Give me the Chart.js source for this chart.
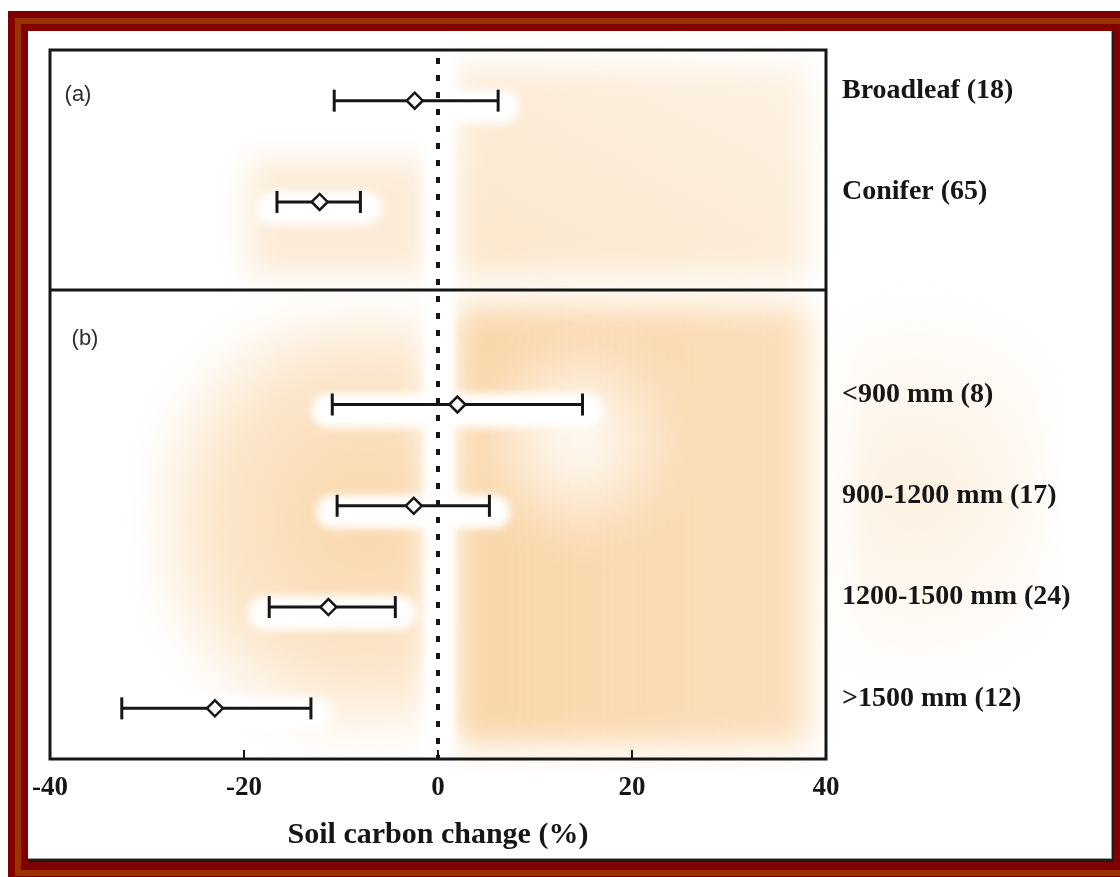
<!DOCTYPE html>
<html>
<head>
<meta charset="utf-8">
<title>Soil carbon change</title>
<script src="https://cdn.jsdelivr.net/npm/chart.js@4.4.1/dist/chart.umd.min.js"></script>
<style>
    html, body { margin: 0; padding: 0; width: 1120px; height: 877px; overflow: hidden; background: #fff; }
    /* triple red frame: dark / rust / dark */
    .frame { position: absolute; left: 8px; top: 11px; width: 1140px; height: 872px; box-sizing: border-box;
             background: #800000; padding: 7px; }
    .band  { height: 100%; box-sizing: border-box; background: #993300; padding: 6px; }
    .inner { height: 100%; box-sizing: border-box; background: #800000; }
    .sheet { position: absolute; left: 28px; top: 31px; width: 1084px; height: 828px; background: #fff;
             border-right: 2px solid #1c1c1c; border-bottom: 3px solid #1c1c1c;
             box-shadow: inset -1px -1px 0 #9a9a9a; }
    canvas { display: block; }
</style>
</head>
<body>
<div class="frame"><div class="band"><div class="inner"></div></div></div>
<div class="sheet"><canvas id="soilChart" width="1084" height="828"></canvas></div>

<script>
(function () {
    'use strict';

    // ── Data ────────────────────────────────────────────────────────────────
    const panelA = ['Broadleaf (18)', 'Conifer (65)'];
    const panelB = ['<900 mm (8)', '900-1200 mm (17)', '1200-1500 mm (24)', '>1500 mm (12)'];
    const groups = [...panelA, ...panelB];

    const means = [-2.4, -12.2, 2.0, -2.5, -11.3, -23.0];
    const lower = [-10.7, -16.6, -10.9, -10.4, -17.4, -32.6];
    const upper = [6.2, -8.0, 14.9, 5.3, -4.4, -13.1];

    const xTicks = [-40, -20, 0, 20, 40];

    // one empty row keeps the two panels apart
    const yLabels = [...panelA, '', ...panelB];
    const DIVIDER_AT = 1.87;

    // ── Theme ───────────────────────────────────────────────────────────────
    const INK   = '#161616';
    const SERIF = "'Liberation Serif', 'Times New Roman', serif";
    const SANS  = "'Liberation Sans', Arial, sans-serif";
    const PEACH = 'rgba(248,206,152,';

    // ── Datasets ────────────────────────────────────────────────────────────
    const whiskers = groups.map((g, i) => ({
        data: [{ x: lower[i], y: g }, { x: upper[i], y: g }],
        borderColor: INK,
        borderWidth: 3,
        pointRadius: 0,
        order: 3
    }));

    const caps = {
        data: groups.flatMap((g, i) => [{ x: lower[i], y: g }, { x: upper[i], y: g }]),
        showLine: false,
        pointStyle: 'line',
        rotation: 90,
        pointRadius: 11,
        borderColor: INK,
        borderWidth: 3,
        order: 2
    };

    const centres = {
        data: groups.map((g, i) => ({ x: means[i], y: g })),
        showLine: false,
        pointStyle: 'rectRot',
        pointRadius: 8,
        backgroundColor: '#fff',
        borderColor: INK,
        borderWidth: 2.5,
        order: 1
    };

    // ── Plugins ─────────────────────────────────────────────────────────────
    // soft peach wash behind the panels
    const haze = {
        id: 'haze',
        beforeDraw(chart) {
            const { ctx, chartArea: a, scales: { x, y } } = chart;
            const x0 = x.getPixelForValue(0);
            const divY = y.getPixelForValue(DIVIDER_AT);
            ctx.save();
            ctx.filter = 'blur(16px)';

            let g = ctx.createLinearGradient(x0, a.bottom, a.right, a.top);
            g.addColorStop(0, PEACH + '0.8)');
            g.addColorStop(1, PEACH + '0.25)');
            ctx.fillStyle = g;
            ctx.fillRect(x0 + 18, a.top + 16, a.right - x0 - 36, divY - a.top - 30);

            g = ctx.createLinearGradient(x0, 0, a.right, 0);
            g.addColorStop(0, PEACH + '0.85)');
            g.addColorStop(1, PEACH + '0.65)');
            ctx.fillStyle = g;
            ctx.fillRect(x0 + 18, divY + 16, a.right - x0 - 36, a.bottom - divY - 30);

            g = ctx.createRadialGradient(x0 + 140, divY + 150, 5, x0 + 140, divY + 150, 110);
            g.addColorStop(0, 'rgba(255,255,255,0.9)');
            g.addColorStop(1, 'rgba(255,255,255,0)');
            ctx.fillStyle = g;
            ctx.fillRect(x0, divY, a.right - x0, a.bottom - divY);

            g = ctx.createRadialGradient(x0 - 70, divY + 230, 20, x0 - 70, divY + 230, 240);
            g.addColorStop(0, PEACH + '0.8)');
            g.addColorStop(0.6, PEACH + '0.5)');
            g.addColorStop(1, PEACH + '0)');
            ctx.fillStyle = g;
            ctx.fillRect(a.left + 100, divY + 20, x0 - a.left - 110, a.bottom - divY - 30);

            ctx.fillStyle = PEACH + '0.4)';
            ctx.fillRect(x0 - 190, a.top + 110, 180, divY - a.top - 125);

            g = ctx.createRadialGradient(a.right + 90, divY + 200, 10, a.right + 90, divY + 200, 200);
            g.addColorStop(0, PEACH + '0.3)');
            g.addColorStop(1, PEACH + '0)');
            ctx.fillStyle = g;
            ctx.fillRect(a.right + 20, divY - 60, 200, 470);
            ctx.restore();
        }
    };

    // white halos, panel frame, zero line and inward ticks
    const frame = {
        id: 'frame',
        beforeDatasetsDraw(chart) {
            const { ctx, chartArea: a, scales: { x, y } } = chart;
            const x0 = x.getPixelForValue(0);
            const divY = y.getPixelForValue(DIVIDER_AT);

            ctx.save();
            ctx.filter = 'blur(4px)';
            ctx.strokeStyle = '#fff';
            ctx.lineCap = 'round';
            groups.forEach((g, i) => {
                const py = y.getPixelForValue(g);
                ctx.lineWidth = 34;
                ctx.beginPath();
                ctx.moveTo(x.getPixelForValue(lower[i]) - 4, py + 6);
                ctx.lineTo(x.getPixelForValue(upper[i]) + 4, py + 6);
                ctx.stroke();
            });
            ctx.fillStyle = '#fff';
            ctx.fillRect(x0 - 14, a.top, 30, a.bottom - a.top);
            ctx.restore();

            ctx.save();
            ctx.strokeStyle = INK;
            ctx.lineWidth = 3;
            ctx.strokeRect(a.left, a.top, a.right - a.left, a.bottom - a.top);
            ctx.beginPath();
            ctx.moveTo(a.left, divY);
            ctx.lineTo(a.right, divY);
            ctx.stroke();

            ctx.lineWidth = 2;
            x.ticks.forEach(t => {
                if (t.value <= x.min || t.value >= x.max) return;
                const px = x.getPixelForValue(t.value);
                ctx.beginPath();
                ctx.moveTo(px, a.bottom);
                ctx.lineTo(px, a.bottom - 9);
                ctx.stroke();
            });

            ctx.lineWidth = 4;
            ctx.setLineDash([6, 11]);
            ctx.beginPath();
            ctx.moveTo(x0, a.top + 8);
            ctx.lineTo(x0, a.bottom);
            ctx.stroke();
            ctx.restore();
        },
        afterDraw(chart) {
            const { ctx, chartArea: a, scales: { y } } = chart;
            const divY = y.getPixelForValue(DIVIDER_AT);
            ctx.save();
            ctx.fillStyle = '#2e2e2e';
            ctx.font = '22px ' + SANS;
            ctx.textAlign = 'center';
            ctx.textBaseline = 'middle';
            ctx.fillText('(a)', a.left + 28, a.top + 45);
            ctx.fillText('(b)', a.left + 35, divY + 49);
            ctx.restore();
        }
    };

    // ── Chart ───────────────────────────────────────────────────────────────
    new Chart(document.getElementById('soilChart'), {
        type: 'line',
        data: { datasets: [...whiskers, caps, centres] },
        options: {
            responsive: false,
            animation: false,
            layout: { padding: { left: 22, top: 19, right: 0, bottom: 0 } },
            plugins: { legend: { display: false }, tooltip: { enabled: false } },
            scales: {
                x: {
                    type: 'linear',
                    min: -40,
                    max: 40,
                    afterBuildTicks: s => { s.ticks = xTicks.map(v => ({ value: v })); },
                    afterFit: s => { s.height = 100; s.paddingLeft = 0; s.paddingRight = 0; },
                    grid: { display: false, drawTicks: false },
                    border: { display: false },
                    ticks: {
                        color: INK,
                        padding: 13,
                        font: { family: SERIF, size: 27, weight: 'bold' }
                    },
                    title: {
                        display: true,
                        text: 'Soil carbon change (%)',
                        color: INK,
                        padding: { top: 0, bottom: 6 },
                        font: { family: SERIF, size: 30, weight: 'bold' }
                    }
                },
                y: {
                    type: 'category',
                    labels: yLabels,
                    position: 'right',
                    offset: true,
                    afterFit: s => { s.width = 286; s.paddingTop = 0; s.paddingBottom = 0; },
                    grid: { display: false, drawTicks: false },
                    border: { display: false },
                    ticks: {
                        color: INK,
                        padding: 16,
                        labelOffset: -10,
                        autoSkip: false,
                        font: { family: SERIF, size: 28, weight: 'bold' }
                    }
                }
            }
        },
        plugins: [haze, frame]
    });
})();
</script>
</body>
</html>
